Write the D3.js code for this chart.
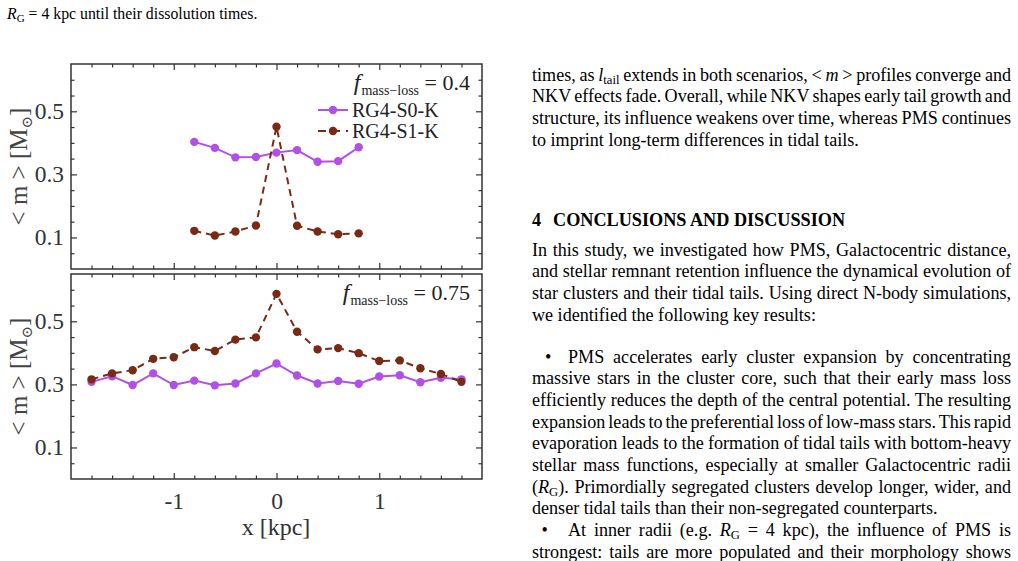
<!DOCTYPE html>
<html>
<head>
<meta charset="utf-8">
<script src="https://cdn.jsdelivr.net/npm/d3@7/dist/d3.min.js"></script>
<style>
  body { margin: 0; background: #fff; }
  svg { display: block; }
</style>
</head>
<body>
<svg width="1018" height="561"></svg>
<script>
// data: mean stellar mass <m> along the tail
const xTop = [-0.8, -0.6, -0.4, -0.2, 0, 0.2, 0.4, 0.6, 0.8];
const s0Top = [0.403, 0.384, 0.354, 0.355, 0.369, 0.377, 0.340, 0.342, 0.386];
const s1Top = [0.121, 0.106, 0.119, 0.138, 0.451, 0.137, 0.119, 0.110, 0.113];

const xBottom = [-1.8, -1.6, -1.4, -1.2, -1.0, -0.8, -0.6, -0.4, -0.2, 0, 0.2, 0.4, 0.6, 0.8, 1.0, 1.2, 1.4, 1.6, 1.8];
const s0Bottom = [0.308, 0.326, 0.298, 0.335, 0.298, 0.312, 0.297, 0.303, 0.335, 0.366, 0.328, 0.303, 0.311, 0.302, 0.325, 0.329, 0.307, 0.321, 0.316];
const s1Bottom = [0.316, 0.335, 0.345, 0.381, 0.386, 0.418, 0.406, 0.442, 0.449, 0.587, 0.467, 0.411, 0.415, 0.399, 0.374, 0.376, 0.351, 0.333, 0.308];

const seriesNames = ["RG4-S0-K", "RG4-S1-K"];
const massLoss = ["0.4", "0.75"];
const xTicks = [-1, 0, 1];
const yTicks = [0.1, 0.3, 0.5];

const purple = "#b24fe6", brown = "#7a2a14", axisCol = "#333";
const serif = "'Liberation Serif', serif";

const svg = d3.select("svg");
const x = d3.scaleLinear().domain([-2, 2]).range([71, 482]);
const xMinor = d3.range(-1.8, 2, 0.2).filter(v => Math.abs(v - Math.round(v)) > 1e-6);
const yMinor = d3.range(0.05, 0.65, 0.05).filter(v => !yTicks.some(t => Math.abs(t - v) < 1e-6));

const panels = [
  {top: 64, bottom: 269, xs: xTop, s0: s0Top, s1: s1Top, f: massLoss[0], legend: true, xlab: false},
  {top: 274, bottom: 479, xs: xBottom, s0: s0Bottom, s1: s1Bottom, f: massLoss[1], legend: false, xlab: true}
];

function styleAxis(g) {
  g.select(".domain").remove();
  g.selectAll("line").attr("stroke", axisCol).attr("stroke-width", 1.2);
  g.selectAll("text").attr("fill", axisCol).attr("font-family", serif).attr("font-size", 23.5);
}

panels.forEach(p => {
  const y = d3.scaleLinear().domain([0, 0.65]).range([p.bottom, p.top]);
  const g = svg.append("g");

  // ticks on all four sides, pointing inward
  g.append("g").attr("transform", `translate(0,${p.bottom})`)
    .call(d3.axisBottom(x).tickValues(xTicks).tickSize(-6).tickPadding(13)
      .tickFormat(d => p.xlab ? String(d) : "")).call(styleAxis);
  g.append("g").attr("transform", `translate(0,${p.bottom})`)
    .call(d3.axisBottom(x).tickValues(xMinor).tickSize(-3.5).tickFormat("")).call(styleAxis);
  g.append("g").attr("transform", `translate(0,${p.top})`)
    .call(d3.axisTop(x).tickValues(xTicks).tickSize(-6).tickFormat("")).call(styleAxis);
  g.append("g").attr("transform", `translate(0,${p.top})`)
    .call(d3.axisTop(x).tickValues(xMinor).tickSize(-3.5).tickFormat("")).call(styleAxis);
  g.append("g").attr("transform", `translate(71,0)`)
    .call(d3.axisLeft(y).tickValues(yTicks).tickSize(-6).tickPadding(7).tickFormat(d3.format(".1f"))).call(styleAxis);
  g.append("g").attr("transform", `translate(71,0)`)
    .call(d3.axisLeft(y).tickValues(yMinor).tickSize(-3.5).tickFormat("")).call(styleAxis);
  g.append("g").attr("transform", `translate(482,0)`)
    .call(d3.axisRight(y).tickValues(yTicks).tickSize(-6).tickFormat("")).call(styleAxis);
  g.append("g").attr("transform", `translate(482,0)`)
    .call(d3.axisRight(y).tickValues(yMinor).tickSize(-3.5).tickFormat("")).call(styleAxis);

  g.append("rect").attr("x", 71).attr("y", p.top).attr("width", 411).attr("height", p.bottom - p.top)
    .attr("fill", "none").attr("stroke", axisCol).attr("stroke-width", 1.5);

  const line = d3.line().x(d => x(d[0])).y(d => y(d[1]));
  const d0 = p.xs.map((v, i) => [v, p.s0[i]]);
  const d1 = p.xs.map((v, i) => [v, p.s1[i]]);

  g.append("path").attr("d", line(d0)).attr("fill", "none").attr("stroke", purple).attr("stroke-width", 2);
  g.selectAll(null).data(d0).enter().append("circle")
    .attr("cx", d => x(d[0])).attr("cy", d => y(d[1])).attr("r", 4.2).attr("fill", purple);
  g.append("path").attr("d", line(d1)).attr("fill", "none").attr("stroke", brown).attr("stroke-width", 2)
    .attr("stroke-dasharray", "7,5");
  g.selectAll(null).data(d1).enter().append("circle")
    .attr("cx", d => x(d[0])).attr("cy", d => y(d[1])).attr("r", 4.2).attr("fill", brown);

  // y label
  const cy = (p.top + p.bottom) / 2;
  const yl = g.append("text").attr("transform", `translate(27,${cy}) rotate(-90)`)
    .attr("text-anchor", "middle").attr("font-family", serif).attr("font-size", 25).attr("fill", "#444");
  yl.append("tspan").text("< m >  [M");
  yl.append("tspan").attr("font-size", 15).attr("dy", 5).attr("font-family", "'DejaVu Serif', serif").text("⊙");
  yl.append("tspan").attr("dy", -5).text("]");

  // f_mass-loss annotation
  const fy = p.top + (p.legend ? 25.5 : 26);
  const ft = g.append("text").attr("x", 470).attr("y", fy).attr("text-anchor", "end")
    .attr("font-family", serif).attr("font-size", 22).attr("fill", "#222");
  ft.append("tspan").attr("font-style", "italic").attr("font-size", 24).text("f");
  ft.append("tspan").attr("font-size", 14).attr("dy", 5).attr("dx", 1).text("mass−loss");
  ft.append("tspan").attr("dy", -5).text(" = " + p.f);

  if (p.legend) {
    const rows = [{name: seriesNames[0], col: purple, dash: null, yy: 110},
                  {name: seriesNames[1], col: brown, dash: "8,6", yy: 131}];
    rows.forEach(r => {
      g.append("line").attr("x1", 318).attr("x2", 348).attr("y1", r.yy).attr("y2", r.yy)
        .attr("stroke", r.col).attr("stroke-width", 2).attr("stroke-dasharray", r.dash);
      g.append("circle").attr("cx", 333).attr("cy", r.yy).attr("r", 4.2).attr("fill", r.col);
      g.append("text").attr("x", 352).attr("y", r.yy + 7).attr("font-family", serif)
        .attr("font-size", 20).attr("fill", "#222").text(r.name);
    });
  }
});

// x label
svg.append("text").attr("x", 276).attr("y", 535).attr("text-anchor", "middle")
  .attr("font-family", serif).attr("font-size", 24).attr("fill", axisCol).text("x [kpc]");

// ---- surrounding paper text ----
function addLine(x0, yc, segs, opts = {}) {
  const size = opts.size || 18.1;
  const t = svg.append("text").attr("x", x0).attr("y", yc + 5.8)
    .attr("font-family", serif).attr("font-size", size).attr("fill", "#000");
  if (opts.bold) t.attr("font-weight", "bold");
  segs.forEach(s => {
    const [str, st] = typeof s === "string" ? [s, ""] : s;
    const ts = t.append("tspan").text(str);
    if (st === "i") ts.attr("font-style", "italic");
    if (st === "sub") ts.attr("font-size", size * 0.7).attr("dy", 3);
    if (st === "after") ts.attr("dy", -3);
  });
  if (opts.right) {
    const nat = t.node().getComputedTextLength();
    const spaces = segs.map(s => typeof s === "string" ? s : s[0]).join("").split(" ").length - 1;
    if (spaces > 0) t.attr("word-spacing", (opts.right - x0 - nat) / spaces);
  }
  return t;
}

addLine(7, 13.5, [["R", "i"], ["G", "sub"], [" = 4 kpc until their dissolution times.", "after"]], {size: 15.8});

const L = 532, R = 1011, dy = 21.67;
const p1 = [
  [["times, as "], ["l", "i"], ["tail", "sub"], [" extends in both scenarios, < ", "after"], ["m", "i"], [" > profiles converge and"]],
  ["NKV effects fade. Overall, while NKV shapes early tail growth and"],
  ["structure, its influence weakens over time, whereas PMS continues"],
  ["to imprint long-term differences in tidal tails."]
];
p1.forEach((segs, i) => addLine(L, 75 + i * dy, segs, {right: i < p1.length - 1 ? R : null}));

addLine(L, 220, ["4"], {bold: true, size: 18.2});
addLine(553, 220, ["CONCLUSIONS AND DISCUSSION"], {bold: true, size: 18.2});

const p2 = [
  "In this study, we investigated how PMS, Galactocentric distance,",
  "and stellar remnant retention influence the dynamical evolution of",
  "star clusters and their tidal tails. Using direct N-body simulations,",
  "we identified the following key results:"
];
p2.forEach((s, i) => addLine(L, 250 + i * dy, [s], {right: i < p2.length - 1 ? R : null}));

const p3 = [
  {x0: 568, bullet: 545, segs: ["PMS accelerates early cluster expansion by concentrating"]},
  {x0: L, segs: ["massive stars in the cluster core, such that their early mass loss"]},
  {x0: L, segs: ["efficiently reduces the depth of the central potential. The resulting"]},
  {x0: L, segs: ["expansion leads to the preferential loss of low-mass stars. This rapid"]},
  {x0: L, segs: ["evaporation leads to the formation of tidal tails with bottom-heavy"]},
  {x0: L, segs: ["stellar mass functions, especially at smaller Galactocentric radii"]},
  {x0: L, segs: [["("], ["R", "i"], ["G", "sub"], ["). Primordially segregated clusters develop longer, wider, and", "after"]]},
  {x0: L, segs: ["denser tidal tails than their non-segregated counterparts."], last: true},
  {x0: 568, bullet: 541.5, segs: [["At inner radii (e.g. "], ["R", "i"], ["G", "sub"], [" = 4 kpc), the influence of PMS is", "after"]]},
  {x0: L, segs: ["strongest: tails are more populated and their morphology shows"]}
];
p3.forEach((l, i) => {
  if (l.bullet) addLine(l.bullet, 356.7 + i * dy, ["•"]);
  addLine(l.x0, 356.7 + i * dy, l.segs, {right: l.last ? null : R});
});
</script>
</body>
</html>
